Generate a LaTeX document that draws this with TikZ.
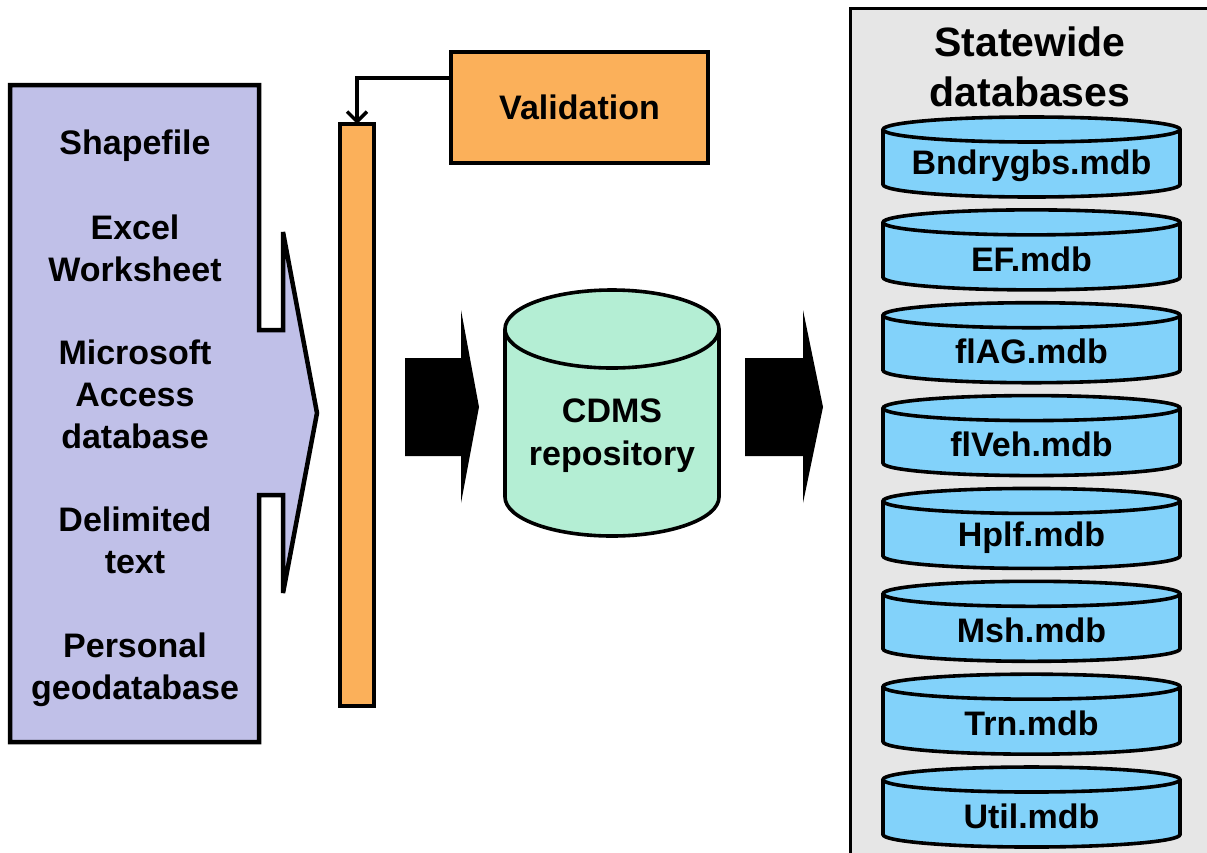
\documentclass[tikz,border=0pt]{standalone}
\usepackage{fontspec}
\setmainfont{Liberation Sans}
\usetikzlibrary{arrows.meta}

\definecolor{srcfill}{RGB}{192,192,232}
\definecolor{valfill}{RGB}{251,176,90}
\definecolor{repofill}{RGB}{180,238,212}
\definecolor{dbfill}{RGB}{130,210,250}
\definecolor{panelfill}{RGB}{230,230,230}

% drum: centre x, top y, width, height, half height of the end, fill
\newcommand{\drum}[6]{%
  \draw[fill=#6, line width=3.6pt]
    ({#1-#3/2},{#2+#5}) -- ({#1-#3/2},{#2+#4-#5}) arc (180:0:{#3/2} and #5)
    -- ({#1+#3/2},{#2+#5}) arc (0:-180:{#3/2} and #5) -- cycle;
  \draw[line width=3.6pt] ({#1-#3/2},{#2+#5}) arc (180:0:{#3/2} and #5);
}

\tikzset{
  lbl/.style={font=\fontsize{34}{42}\selectfont\bfseries, align=center, inner sep=0pt},
  ttl/.style={font=\fontsize{41}{50}\selectfont\bfseries, align=center, inner sep=0pt},
  box/.style={draw, line width=4pt, inner sep=0pt, outer sep=0pt},
  feed/.style={line width=3.5pt, -{Straight Barb[length=10pt, width=20pt, line width=3.5pt]}},
}

\begin{document}
\begin{tikzpicture}[x=1pt, y=-1pt]
\useasboundingbox (0,0) rectangle (1207,852);

% source formats
\draw[fill=srcfill, line width=4.5pt, line join=miter]
  (10,85) -- (259,85) -- (259,330) -- (283,330) -- (283,232) -- (317,413)
  -- (283,593) -- (283,495) -- (259,495) -- (259,742) -- (10,742) -- cycle;
\node[lbl] (shp) at (135,146) {Shapefile};
\node[lbl] (xls) at (135,248) {Excel\\Worksheet};
\node[lbl] (mdb) at (135,394) {Microsoft\\Access\\database};
\node[lbl] (txt) at (135,540) {Delimited\\text};
\node[lbl] (gdb) at (135,670) {Personal\\geodatabase};

% loader bar and validation
\node[box, fill=valfill, minimum width=34pt, minimum height=582pt] (bar) at (357,415) {};
\node[box, fill=valfill, minimum width=257pt, minimum height=111pt, font=\fontsize{34}{42}\selectfont\bfseries] (val) at (579.5,107.5) {Validation};
\coordinate (bend) at (357,78);
\draw[feed] (val.west |- bend) -- (bend) -- (bar.north);

% block arrows
\fill (405,358) -- (461,358) -- (461,310) -- (479,407) -- (461,503) -- (461,456) -- (405,456) -- cycle;
\fill (745,358) -- (803,358) -- (803,310) -- (823,407) -- (803,503) -- (803,456) -- (745,456) -- cycle;

% repository
\drum{612}{290}{214}{246}{39}{repofill}
\node[lbl, font=\fontsize{34}{43}\selectfont\bfseries] (cdms) at (612,436) {CDMS\\repository};

% statewide databases
\draw[fill=panelfill, line width=3pt] (850,8) rectangle (1215,860);
\node[ttl] (sw) at (1030,67) {Statewide\\databases};
\foreach \i/\t in {0/Bndrygbs.mdb, 1/EF.mdb, 2/flAG.mdb, 3/flVeh.mdb,
                   4/Hplf.mdb, 5/Msh.mdb, 6/Trn.mdb, 7/Util.mdb}{
  \drum{1031.5}{117+\i*92.86}{297}{80}{12.5}{dbfill}
  \node[lbl] (db\i) at (1031.5,{166+\i*92.86}) {\t};
}

\end{tikzpicture}
\end{document}
